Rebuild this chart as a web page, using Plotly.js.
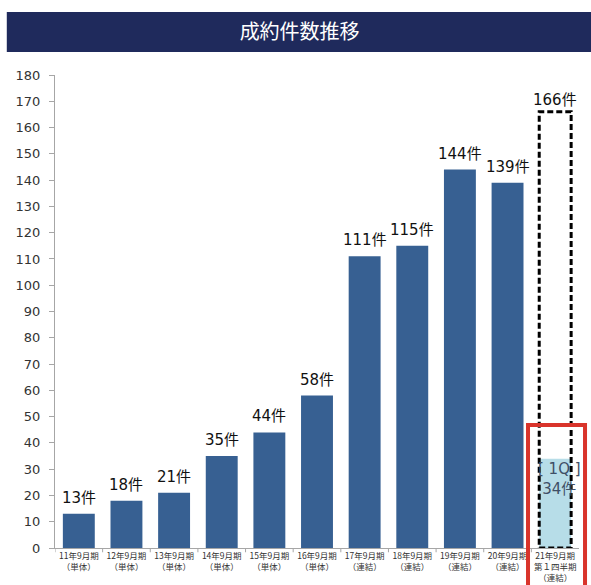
<!DOCTYPE html>
<html>
<head>
<meta charset="utf-8">
<script src="https://cdn.plot.ly/plotly-3.0.1.min.js"></script>
<style>html,body{margin:0;padding:0;background:#fff;}#chart{width:591px;height:585px;}</style>
</head>
<body>
<div id="chart"></div>
<script>
const categories = [
  "11年9月期<br>（単体）","12年9月期<br>（単体）","13年9月期<br>（単体）","14年9月期<br>（単体）",
  "15年9月期<br>（単体）","16年9月期<br>（単体）","17年9月期<br>（連結）","18年9月期<br>（連結）",
  "19年9月期<br>（連結）","20年9月期<br>（連結）","21年9月期<br>第１四半期<br>（連結）"
];
const values = [13, 18, 21, 35, 44, 58, 111, 115, 144, 139, 34];
const forecastValue = 166;
const forecastLabel = "166件";
const quarterLabel = "[ 1Q ]<br>34件";
const unit = "件";
const yTicks = [0,10,20,30,40,50,60,70,80,90,100,110,120,130,140,150,160,170,180];

const lastIdx = values.length - 1;
const barColors = values.map((v, i) => i === lastIdx ? "#b7dde8" : "#376092");
const bargap = 0.33;
const half = (1 - bargap) / 2;

const labelFont = {family: "DejaVu Sans, Noto Sans CJK JP, sans-serif", size: 15, color: "#111"};

const annotations = values.slice(0, lastIdx).map((v, i) => ({
  x: i, y: v, xref: "x", yref: "y", text: v + unit, showarrow: false,
  yanchor: "bottom", yshift: 5, font: labelFont
}));
annotations.push({
  x: lastIdx, y: forecastValue, xref: "x", yref: "y", text: forecastLabel, showarrow: false,
  yanchor: "bottom", yshift: 1, font: labelFont
});
annotations.push({
  x: lastIdx, y: values[lastIdx], xref: "x", yref: "y", text: quarterLabel, showarrow: false,
  yanchor: "top", yshift: 1, xshift: 4, align: "center",
  font: {family: "DejaVu Sans, Noto Sans CJK JP, sans-serif", size: 15, color: "#3f4f66"}
});

const trace = {
  type: "bar",
  x: categories.map((c, i) => i),
  y: values,
  marker: {color: barColors},
  hoverinfo: "skip"
};

const layout = {
  width: 591, height: 585,
  margin: {l: 55, r: 12, t: 75, b: 37},
  paper_bgcolor: "#ffffff",
  plot_bgcolor: "rgba(0,0,0,0)",
  bargap: bargap,
  showlegend: false,
  title: {
    text: "成約件数推移",
    x: 0.507, xref: "container", xanchor: "center",
    y: 0.945, yref: "container", yanchor: "middle",
    font: {family: "Noto Sans CJK JP, sans-serif", size: 20, color: "#ffffff"}
  },
  xaxis: {
    type: "linear",
    range: [-0.5, lastIdx + 0.5],
    tickmode: "array",
    tickvals: categories.map((c, i) => i),
    ticktext: categories,
    showline: true, linecolor: "#a6a6a6", linewidth: 1,
    ticks: "", showgrid: false, zeroline: false,
    tickfont: {family: "Noto Sans CJK JP, sans-serif", size: 8.5, color: "#333"},
    fixedrange: true
  },
  yaxis: {
    range: [0, 180],
    tickmode: "array", tickvals: yTicks,
    showline: true, linecolor: "#a6a6a6", linewidth: 1,
    ticks: "outside", ticklen: 5, tickcolor: "#a6a6a6",
    showgrid: false, zeroline: false,
    tickfont: {family: "DejaVu Sans, sans-serif", size: 13, color: "#333"},
    ticklabelstandoff: 6,
    fixedrange: true
  },
  shapes: [
    {type: "rect", xref: "paper", yref: "paper", x0: -0.092, x1: 1.05, y0: 1.0486, y1: 1.1332,
     fillcolor: "#1f2a5c", line: {width: 0}, layer: "below"},
    {type: "rect", xref: "x", yref: "y", x0: lastIdx - half, x1: lastIdx + half, y0: 0, y1: forecastValue,
     fillcolor: "rgba(0,0,0,0)", line: {color: "#000", width: 3, dash: "6px,3px"}, layer: "above"},
    {type: "rect", xref: "paper", yref: "paper", x0: 0.9027, x1: 1.0115, y0: -0.15, y1: 0.26,
     fillcolor: "rgba(0,0,0,0)", line: {color: "#d9342b", width: 4}, layer: "above"}
  ].concat(categories.map((c, i) => ({
    type: "line", xref: "x", yref: "paper", x0: i - 0.5, x1: i - 0.5, y0: 0, y1: -0.009,
    line: {color: "#a6a6a6", width: 1}
  }))),
  annotations: annotations
};

Plotly.newPlot("chart", [trace], layout, {displayModeBar: false, staticPlot: true});
</script>
</body>
</html>
